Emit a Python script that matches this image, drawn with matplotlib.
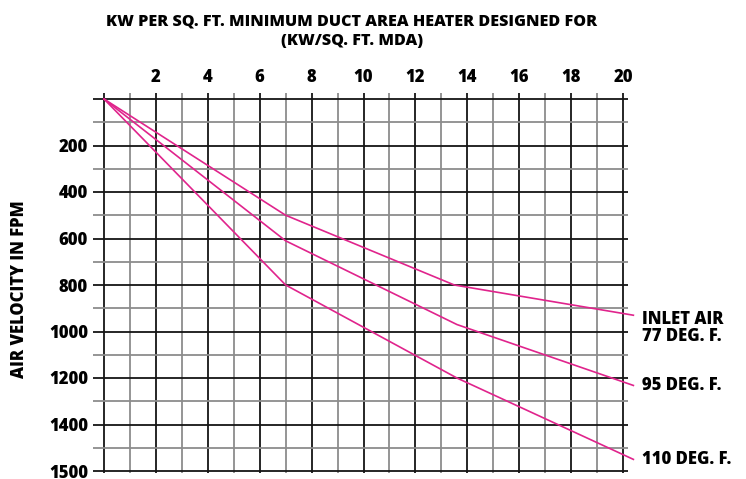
import matplotlib
matplotlib.use('Agg')
import matplotlib.pyplot as plt
import numpy as np

# curves (kW/sq.ft. MDA vs air velocity, fpm)
kw_77 = [0, 7.0, 13.5, 20.4]
fpm_77 = [0, 500, 800, 930]
kw_95 = [0, 7.0, 13.6, 20.4]
fpm_95 = [0, 610, 970, 1232]
kw_110 = [0, 7.0, 13.6, 20.4]
fpm_110 = [0, 800, 1200, 1550]

curve_labels = ['INLET AIR\n77 DEG. F.', '95 DEG. F.', '110 DEG. F.']
label_y = [983, 1234, 1550]

x_ticks = [2, 4, 6, 8, 10, 12, 14, 16, 18, 20]
y_ticks = [200, 400, 600, 800, 1000, 1200, 1400, 1600]
y_tick_labels = ['200', '400', '600', '800', '1000', '1200', '1400', '1500']

plt.rcParams['font.family'] = ['Open Sans', 'DejaVu Sans']
plt.rcParams['font.weight'] = 'heavy'

dark = '#151515'
grey = '#8c8c8c'
pink = '#e0248c'
wt = 'heavy'

fig = plt.figure(figsize=(7.46, 4.79), dpi=100)
ax = fig.add_axes([104 / 746, 1 - 471 / 479, 519 / 746, 372 / 479])
ax.set_xlim(0, 20)
ax.set_ylim(1600, 0)
for s in ax.spines.values():
    s.set_visible(False)

# grid, drawn by hand so the lines can poke out past the frame a little
for xv in range(0, 21):
    c = dark if xv % 2 == 0 else grey
    ax.vlines(xv, -26, 1608, color=c, lw=1.3, clip_on=False, zorder=1)
for yv in range(0, 1601, 100):
    c = dark if yv % 200 == 0 else grey
    ax.hlines(yv, -0.42, 20.2, color=c, lw=1.3, clip_on=False, zorder=1)

for xs, ys in [(kw_77, fpm_77), (kw_95, fpm_95), (kw_110, fpm_110)]:
    ax.plot(xs, ys, color=pink, lw=1.2, clip_on=False, zorder=3)

for txt, yy in zip(curve_labels, label_y):
    ax.text(20.72, yy, txt, ha='left', va='center', fontsize=12,
            fontweight=wt, linespacing=1.0, clip_on=False)

ax.xaxis.tick_top()
ax.set_xticks(x_ticks)
ax.set_xticklabels([str(v) for v in x_ticks], fontweight=wt)
ax.set_yticks(y_ticks)
ax.set_yticklabels(y_tick_labels, fontweight=wt, va='center_baseline')
ax.tick_params(axis='x', length=0, pad=9, labelsize=12)
ax.tick_params(axis='y', length=0, pad=11.5, labelsize=12)

fig.text(352 / 746, 1 - 13 / 479,
         'KW PER SQ. FT. MINIMUM DUCT AREA HEATER DESIGNED FOR\n(KW/SQ. FT. MDA)',
         ha='center', va='top', fontsize=11.6, fontweight=wt,
         linespacing=1.35)
fig.text(20 / 746, 1 - 289 / 479, 'AIR VELOCITY IN FPM', rotation=90,
         ha='center', va='center', fontsize=12, fontweight=wt)

fig.savefig('out.png', dpi=100)
